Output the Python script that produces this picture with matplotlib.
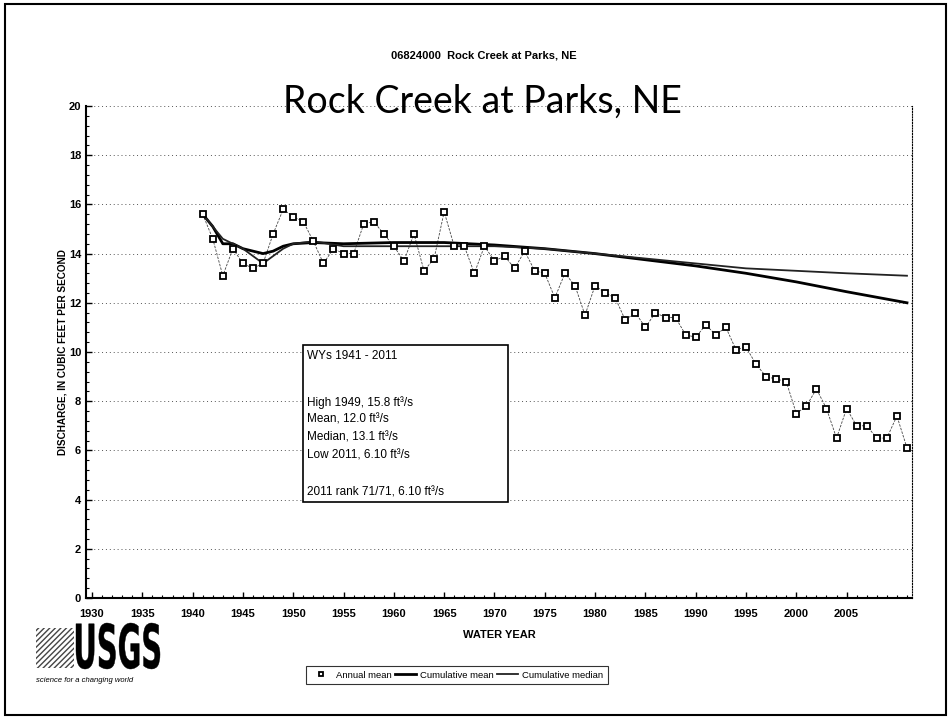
import matplotlib
matplotlib.use("Agg")
import matplotlib.pyplot as plt
import matplotlib.ticker as mticker
from matplotlib.patches import Rectangle, PathPatch, Polygon
from matplotlib.textpath import TextPath
from matplotlib.font_manager import FontProperties
from matplotlib.transforms import Affine2D

# annual mean discharge, WY 1941-2011 (ft3/s)
years = list(range(1941, 2012))
annual_mean = [15.6, 14.6, 13.1, 14.2, 13.6, 13.4, 13.6, 14.8, 15.8, 15.5,
               15.3, 14.5, 13.6, 14.2, 14.0, 14.0, 15.2, 15.3, 14.8, 14.3,
               13.7, 14.8, 13.3, 13.8, 15.7, 14.3, 14.3, 13.2, 14.3, 13.7,
               13.9, 13.4, 14.1, 13.3, 13.2, 12.2, 13.2, 12.7, 11.5, 12.7,
               12.4, 12.2, 11.3, 11.6, 11.0, 11.6, 11.4, 11.4, 10.7, 10.6,
               11.1, 10.7, 11.0, 10.1, 10.2, 9.5, 9.0, 8.9, 8.8, 7.5,
               7.8, 8.5, 7.7, 6.5, 7.7, 7.0, 7.0, 6.5, 6.5, 7.4,
               6.1]

# cumulative curves
cum_years = [1941, 1942, 1943, 1944, 1945, 1946, 1947, 1948, 1949, 1950,
             1952, 1955, 1960, 1965, 1970, 1975, 1980, 1985, 1990, 1995,
             2000, 2005, 2011]
cum_mean = [15.6, 15.1, 14.4, 14.4, 14.2, 14.1, 14.0, 14.1, 14.3, 14.4,
            14.45, 14.4, 14.45, 14.45, 14.35, 14.2, 14.0, 13.75, 13.5, 13.2,
            12.85, 12.45, 12.0]
cum_median = [15.6, 15.1, 14.6, 14.4, 14.2, 13.9, 13.6, 13.9, 14.2, 14.4,
              14.5, 14.3, 14.3, 14.3, 14.3, 14.2, 14.0, 13.8, 13.6, 13.4,
              13.3, 13.2, 13.1]

stats_lines = ["WYs 1941 - 2011", "",
               "High 1949, 15.8 ft\u00b3/s",
               "Mean, 12.0 ft\u00b3/s",
               "Median, 13.1 ft\u00b3/s",
               "Low 2011, 6.10 ft\u00b3/s", "",
               "2011 rank 71/71, 6.10 ft\u00b3/s"]

plt.rcParams['font.family'] = ['Liberation Sans', 'DejaVu Sans']

W, H = 951, 717
fig = plt.figure(figsize=(W / 100, H / 100), dpi=100)

# slide frame
fig.patches.append(Rectangle((0.005, 0.003), 0.99, 0.992, transform=fig.transFigure,
                             fill=False, ec='black', lw=1.5))

ax = fig.add_axes([86 / W, 1 - 598 / H, 826 / W, 492 / H])

ax.plot(years, annual_mean, color='#444444', lw=0.6, ls=(0, (3, 1.5)), zorder=2)
ax.plot(years, annual_mean, ls='none', marker='s', ms=5, mfc='white', mec='black',
        mew=1.3, zorder=4, label='Annual mean')
ax.plot(cum_years, cum_mean, color='black', lw=2.0, zorder=3, label='Cumulative mean')
ax.plot(cum_years, cum_median, color='#222222', lw=1.3, zorder=3, label='Cumulative median')

ax.set_xlim(1929.4, 2011.5)
ax.set_ylim(0, 20)
ax.set_xticks(range(1930, 2010, 5))
ax.xaxis.set_minor_locator(mticker.MultipleLocator(1))
ax.set_yticks(range(0, 21, 2))
ax.yaxis.set_minor_locator(mticker.MultipleLocator(0.4))
ax.tick_params(which='both', direction='in', labelsize=8)
ax.tick_params(which='major', length=4, width=1)
ax.tick_params(which='minor', length=2, width=0.8)
ax.tick_params(axis='x', pad=8)
for lab in ax.get_xticklabels() + ax.get_yticklabels():
    lab.set_fontweight('bold')

ax.grid(axis='y', which='major', color='#555555', lw=0.7, ls=(0, (1, 3)))
ax.spines['top'].set_visible(False)
ax.spines['right'].set_linestyle((0, (1, 1.5)))
ax.spines['right'].set_linewidth(0.8)
ax.spines['left'].set_linewidth(1.5)
ax.spines['bottom'].set_linewidth(1.5)

ax.set_xlabel('WATER YEAR', fontsize=8, fontweight='bold', labelpad=8)
ax.set_ylabel('DISCHARGE, IN CUBIC FEET PER SECOND', fontsize=7.2, fontweight='bold', labelpad=1)

# statistics box
ax.add_patch(Rectangle((0.263, 0.195), 0.248, 0.319, transform=ax.transAxes,
                       fill=True, fc='white', ec='black', lw=1.2, zorder=5))
line_y = [0.492, 0.445, 0.398, 0.362, 0.326, 0.290, 0.252, 0.215]
for txt, yy in zip(stats_lines, line_y):
    if txt:
        ax.text(0.267, yy, txt, transform=ax.transAxes, fontsize=8.5,
                va='center', ha='left', zorder=6)

# titles
fig.text(484 / W, 1 - 55 / H, '06824000  Rock Creek at Parks, NE', fontsize=8,
         fontweight='bold', ha='center', va='center')
fig.text(482 / W, 1 - 113 / H, 'Rock Creek at Parks, NE', fontsize=27,
         family=['Lato', 'DejaVu Sans'], ha='center', va='baseline')

# legend
leg = fig.legend(loc='center', bbox_to_anchor=(457 / W, 1 - 675 / H), ncol=3,
                 fontsize=6.8, frameon=True, fancybox=False, edgecolor='black',
                 handlelength=2.2, columnspacing=0.4, handletextpad=0.4,
                 borderpad=0.5, markerscale=0.7)
leg.get_frame().set_linewidth(0.8)

# USGS logo (wave mark + letters), pixel coords measured from the top
wave = Polygon([[36, H - 628], [74, H - 628], [74, H - 668], [36, H - 668]],
               closed=True, transform=None, fc='white', ec='#444444',
               hatch='//////', lw=0)
fig.patches.append(wave)
tp = TextPath((0, 0), 'USGS', prop=FontProperties(family='Liberation Sans Narrow',
                                                  weight='bold'))
bb = tp.get_extents()
sx = 84 / bb.width
sy = 46 / bb.height
tr = Affine2D().translate(-bb.x0, -bb.y0).scale(sx, sy).translate(76, H - 669)
fig.patches.append(PathPatch(tr.transform_path(tp), transform=None,
                             fc='black', ec='black', lw=0.3))
fig.text(36 / W, 1 - 681 / H, 'science for a changing world', fontsize=5.5,
         style='italic', ha='left', va='center')

fig.savefig('out.png', dpi=100)
